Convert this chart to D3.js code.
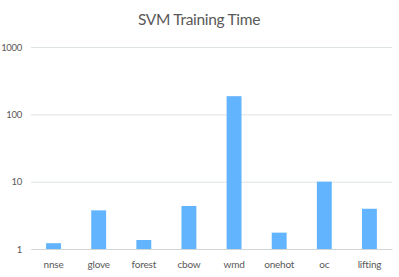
<!DOCTYPE html>
<html>
<head>
<meta charset="utf-8">
<script src="https://cdn.jsdelivr.net/npm/d3@7"></script>
<style>
  body { margin: 0; background: #fff; }
  svg { display: block; font-family: Lato, "Open Sans", sans-serif; }
</style>
</head>
<body>
<svg id="chart" width="399" height="277"></svg>
<script>
// values (seconds, log scale)
let categories = ["nnse", "glove", "forest", "cbow", "wmd", "onehot", "oc", "lifting"];
let trainTimes = [1.22, 3.75, 1.36, 4.35, 186, 1.75, 10.0, 3.96];
let yTicks = [1, 10, 100, 1000];

let svg = d3.select("#chart");

let margin = {top: 47, right: 7, bottom: 28, left: 31};
let plotWidth = 399 - margin.left - margin.right;
let plotHeight = 277 - margin.top - margin.bottom;

let xScale = d3.scaleBand()
  .domain(categories)
  .range([0, plotWidth])
  .paddingInner(0.67)
  .paddingOuter(0.335);

let yScale = d3.scaleLog()
  .domain([1, 1000])
  .range([plotHeight, 0]);

// title
svg.append("text")
  .attr("x", 199)
  .attr("y", 25)
  .attr("text-anchor", "middle")
  .attr("fill", "#595959")
  .attr("font-size", 15.5)
  .attr("letter-spacing", -0.3)
  .text("SVM Training Time");

let plot = svg.append("g")
  .attr("transform", "translate(" + margin.left + "," + margin.top + ")");

// gridlines + y labels
let yAxis = d3.axisLeft(yScale)
  .tickValues(yTicks)
  .tickFormat(d3.format("d"))
  .tickSize(-plotWidth)
  .tickPadding(9);

let yGroup = plot.append("g").call(yAxis);
yGroup.select(".domain").remove();
yGroup.selectAll(".tick line").attr("stroke", "#dde3e3").attr("stroke-width", 1);
yGroup.selectAll(".tick text")
  .attr("fill", "#595959")
  .attr("font-size", 9.5)
  .attr("letter-spacing", -0.3)
  .attr("font-family", "Lato, 'Open Sans', sans-serif");

// bars
plot.selectAll("rect.bar")
  .data(categories)
  .join("rect")
    .attr("class", "bar")
    .attr("x", d => xScale(d))
    .attr("y", (d, i) => yScale(trainTimes[i]))
    .attr("width", xScale.bandwidth())
    .attr("height", (d, i) => plotHeight - yScale(trainTimes[i]))
    .attr("fill", "#61b4fd");

// x axis line + labels
let xAxis = d3.axisBottom(xScale).tickSize(0).tickPadding(12);
let xGroup = plot.append("g")
  .attr("transform", "translate(0," + plotHeight + ")")
  .call(xAxis);
xGroup.select(".domain").attr("stroke", "#d0d6d6");
xGroup.selectAll(".tick text")
  .attr("fill", "#595959")
  .attr("font-size", 10)
  .attr("letter-spacing", -0.2)
  .attr("font-family", "Lato, 'Open Sans', sans-serif");
</script>
</body>
</html>
